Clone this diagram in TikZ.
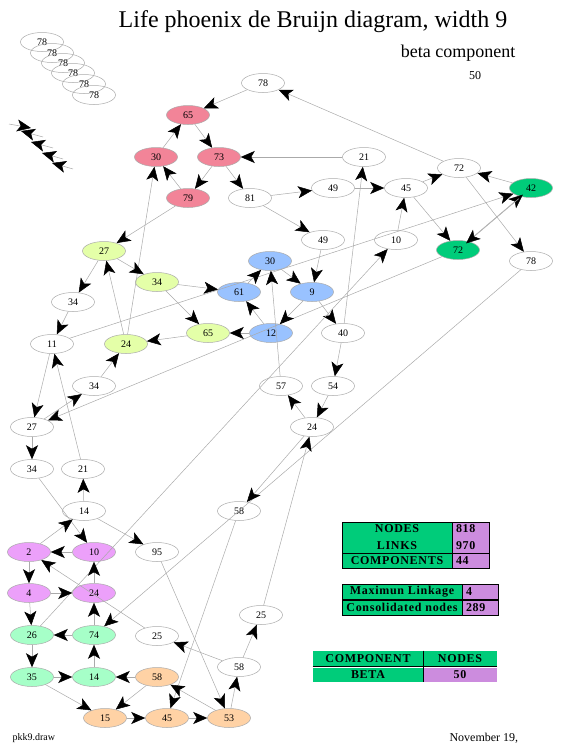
\documentclass[tikz,border=0pt]{standalone}
\usepackage{fontspec}
\setmainfont{Liberation Serif}
\newfontfamily\tablafuente[LetterSpace=6]{Liberation Serif}
\usetikzlibrary{shapes.geometric,arrows.meta}
\usepackage{xcolor}
\definecolor{rosa}{RGB}{242,132,152}
\definecolor{verdeosc}{RGB}{0,204,122}
\definecolor{amarillo}{RGB}{228,255,168}
\definecolor{azul}{RGB}{153,194,255}
\definecolor{magenta}{RGB}{236,160,250}
\definecolor{menta}{RGB}{166,255,200}
\definecolor{naranja}{RGB}{255,210,165}
\definecolor{lila}{RGB}{204,140,222}
\definecolor{lineagris}{RGB}{170,170,170}
\newcommand{\estado}[3]{%
  \node[estadobox, #2] (#1) at (#3) }

\begin{document}
\begin{tikzpicture}[x=1pt, y=-1pt,
  estadobox/.style={ellipse, draw=lineagris, line width=0.5pt, minimum width=43pt,
        minimum height=19pt, inner sep=0pt, font=\fontsize{10}{12}\selectfont},
  flecha/.style={draw=lineagris, line width=0.5pt,
        -{Stealth[length=14pt, width=12pt, inset=3.5pt, color=black]}},
  celda/.style={rectangle, draw=black, line width=0.8pt, inner sep=0pt,
        font=\tablafuente\bfseries\fontsize{12}{17}\selectfont},
  celdalibre/.style={celda, draw=none}]

\useasboundingbox (0,0) rectangle (562,750);

% titulos
\node[font=\fontsize{24}{28}\selectfont] (Titulo) at (313,22) {Life phoenix de Bruijn diagram, width 9};
\node[font=\fontsize{18}{22}\selectfont] (Subtitulo) at (458,53) {beta component};
\node[font=\fontsize{12}{14}\selectfont] (Cuenta) at (475,76) {50};
\node[font=\fontsize{10}{12}\selectfont, anchor=west] (Archivo) at (9,738) {pkk9.draw};
\node[font=\fontsize{12}{14}\selectfont, anchor=west] (Fecha) at (446,738) {November 19,};

% pila de 78
\estado{S1}{}{42,42} {78};
\estado{S2}{}{52,53} {78};
\estado{S3}{}{63,63} {78};
\estado{S4}{}{73,73} {78};
\estado{S5}{}{84,84} {78};
\estado{S6}{}{94,95} {78};

\coordinate (L1a) at (9,124);  \coordinate (L1b) at (31,128);
\coordinate (L2a) at (43,137); \coordinate (L2b) at (21,131);
\coordinate (L3a) at (53,148); \coordinate (L3b) at (31,142);
\coordinate (L4a) at (63,159); \coordinate (L4b) at (42,153);
\coordinate (L5a) at (73,169); \coordinate (L5b) at (52,163);

% nodos de arriba
\estado{N78}{}{263,83} {78};
\estado{P65}{fill=rosa}{188,115} {65};
\estado{P30}{fill=rosa}{156,157} {30};
\estado{P73}{fill=rosa}{219,157} {73};
\estado{P79}{fill=rosa}{188,198} {79};
\estado{W81}{}{250,198} {81};
\estado{N21}{}{364,157} {21};
\estado{N49a}{}{333,188} {49};
\estado{N45}{}{406,188} {45};
\estado{N72}{}{459,168} {72};
\estado{G42}{fill=verdeosc}{531,188} {42};
\estado{N10}{}{396,240} {10};
\estado{G72}{fill=verdeosc}{458,250} {72};
\estado{N78r}{}{531,261} {78};
\estado{N49b}{}{323,240} {49};

% nodos del medio
\estado{Y27}{fill=amarillo}{104,251} {27};
\estado{Y34}{fill=amarillo}{157,282} {34};
\estado{Y65}{fill=amarillo}{208,333} {65};
\estado{Y24}{fill=amarillo}{126,344} {24};
\estado{B30}{fill=azul}{270,261} {30};
\estado{B61}{fill=azul}{239,292} {61};
\estado{B9}{fill=azul}{312,292} {9};
\estado{B12}{fill=azul}{271,333} {12};
\estado{N34a}{}{73,302} {34};
\estado{N11}{}{52,344} {11};
\estado{N34b}{}{94,386} {34};
\estado{N40}{}{343,333} {40};
\estado{N54}{}{333,386} {54};
\estado{N57}{}{281,386} {57};
\estado{N24}{}{312,427} {24};
\estado{N27}{}{32,427} {27};
\estado{N34c}{}{32,469} {34};
\estado{N21b}{}{83,469} {21};
\estado{N14}{}{84,511} {14};
\estado{N58a}{}{239,511} {58};
\estado{N95}{}{157,552} {95};

% nodos de abajo
\estado{M2}{fill=magenta}{29,552} {2};
\estado{M10}{fill=magenta}{94,552} {10};
\estado{M4}{fill=magenta}{29,593} {4};
\estado{M24}{fill=magenta}{94,593} {24};
\estado{N25a}{}{261,615} {25};
\estado{N25b}{}{157,636} {25};
\estado{N58b}{}{239,667} {58};
\estado{T26}{fill=menta}{32,635} {26};
\estado{T74}{fill=menta}{94,635} {74};
\estado{T35}{fill=menta}{32,677} {35};
\estado{T14}{fill=menta}{94,677} {14};
\estado{O58}{fill=naranja}{157,677} {58};
\estado{O15}{fill=naranja}{105,718} {15};
\estado{O45}{fill=naranja}{167,718} {45};
\estado{O53}{fill=naranja}{229,718} {53};

% tablas
\node[celda, fill=verdeosc, minimum width=110pt, minimum height=31pt, align=center] (TabNodos) at (397,537.5) {NODES\\LINKS};
\node[celda, fill=lila, minimum width=37pt, minimum height=31pt, text width=29pt, align=left] (TabNodosV) at (470.5,537.5) {818\\970};
\node[celda, fill=verdeosc, minimum width=110pt, minimum height=15pt] (TabComp) at (397,560.5) {COMPONENTS};
\node[celda, fill=lila, minimum width=37pt, minimum height=15pt, text width=29pt, align=left] (TabCompV) at (470.5,560.5) {44};

\node[celda, fill=verdeosc, minimum width=120pt, minimum height=15pt] (TabMax) at (402,591.5) {Maximun Linkage};
\node[celda, fill=lila, minimum width=36pt, minimum height=15pt, text width=28pt, align=left] (TabMaxV) at (480,591.5) {4};
\node[celda, fill=verdeosc, minimum width=120pt, minimum height=15pt] (TabCons) at (402,607.5) {Consolidated nodes};
\node[celda, fill=lila, minimum width=36pt, minimum height=15pt, text width=28pt, align=left] (TabConsV) at (480,607.5) {289};

\node[celdalibre, fill=verdeosc, minimum width=110pt, minimum height=15pt] (TabComponente) at (368,658.5) {COMPONENT};
\node[celdalibre, fill=verdeosc, minimum width=74pt, minimum height=15pt] (TabNodosB) at (460,658.5) {NODES};
\node[celdalibre, fill=verdeosc, minimum width=110pt, minimum height=14pt] (TabBeta) at (368,675) {BETA};
\node[celdalibre, fill=lila, minimum width=74pt, minimum height=14pt] (TabBetaV) at (460,675) {50};
\draw[black, line width=1.5pt] (TabComponente.south west) -- (TabNodosB.south east);
\draw[black, line width=0.8pt] (TabComponente.north east) -- (TabBeta.south east);

% enlaces
\draw[flecha] (L1a) -- (L1b);
\draw[flecha] (L2a) -- (L2b);
\draw[flecha] (L3a) -- (L3b);
\draw[flecha] (L4a) -- (L4b);
\draw[flecha] (L5a) -- (L5b);

\draw[flecha] (N78) -- (P65);
\draw[flecha] (N72) -- (N78);
\draw[flecha] (P30) -- (P65);
\draw[flecha] (P65) -- (P73);
\draw[flecha] (P79) -- (P30);
\draw[flecha] (P73) -- (P79);
\draw[flecha] (P73) -- (W81);
\draw[flecha] (N21) -- (P73);
\draw[flecha] (Y24) -- (P30);
\draw[flecha] (P79) -- (Y27);
\draw[flecha] (W81) -- (N49a);
\draw[flecha] (W81) -- (N49b);
\draw[flecha] (N49a) -- (N45);
\draw[flecha] (N40) -- (N21);
\draw[flecha] (N45) -- (N72);
\draw[flecha] (G42) -- (N72);
\draw[flecha] (N10) -- (N45);
\draw[flecha] (N45) -- (G72);
\draw[flecha] (N72) -- (N78r);
\draw[flecha] (N11) -- (G42);
\draw[flecha, transform canvas={xshift=2pt, yshift=2pt}] (G72) -- (G42);
\draw[flecha, transform canvas={xshift=-2pt, yshift=-2pt}] (G42) -- (G72);
\draw[flecha] (G72) -- (N27);
\draw[flecha] (N78r) -- (T74);

\draw[flecha] (N24) -- (N58a);
\draw[flecha] (N58a) -- (O45);
\draw[flecha] (N57) -- (B30);
\draw[flecha] (N24) -- (N57);
\draw[flecha] (N54) -- (N24);
\draw[flecha] (N40) -- (N54);
\draw[flecha] (B9) -- (N40);
\draw[flecha] (N49b) -- (B9);
\draw[flecha] (B30) -- (B9);
\draw[flecha] (B9) -- (B12);
\draw[flecha] (B61) -- (B30);
\draw[flecha] (B12) -- (B61);
\draw[flecha] (B12) -- (Y65);
\draw[flecha] (Y65) -- (Y24);
\draw[flecha] (Y34) -- (Y65);
\draw[flecha] (Y34) -- (B61);
\draw[flecha] (Y27) -- (Y34);
\draw[flecha] (Y27) -- (N34a);
\draw[flecha] (Y24) -- (Y27);
\draw[flecha] (N34a) -- (N11);
\draw[flecha] (N34b) -- (Y24);
\draw[flecha] (N21b) -- (N11);
\draw[flecha] (N11) -- (N27);
\draw[flecha] (N27) -- (N34b);
\draw[flecha] (T26) -- (N10);
\draw[flecha] (N27) -- (N34c);
\draw[flecha] (N14) -- (N21b);
\draw[flecha] (N34c) -- (M10);
\draw[flecha] (M2) -- (N14);
\draw[flecha] (N14) -- (N95);

\draw[flecha] (M10) -- (M2);
\draw[flecha] (M2) -- (M4);
\draw[flecha] (M4) -- (M24);
\draw[flecha] (M24) -- (M10);
\draw[flecha] (N25b) -- (M2);
\draw[flecha] (M4) -- (T26);
\draw[flecha] (T74) -- (M24);
\draw[flecha] (T74) -- (T26);
\draw[flecha] (T26) -- (T35);
\draw[flecha] (T35) -- (T14);
\draw[flecha] (T14) -- (T74);
\draw[flecha] (O58) -- (T14);
\draw[flecha] (T35) -- (O15);
\draw[flecha] (O58) -- (O15);
\draw[flecha] (O15) -- (O45);
\draw[flecha] (O45) -- (O53);
\draw[flecha] (O53) -- (O58);
\draw[flecha] (O53) -- (N58b);
\draw[flecha] (N58b) -- (N25a);
\draw[flecha] (N58b) -- (N25b);
\draw[flecha] (N95) -- (O53);
\draw[flecha] (N25a) -- (N24);

\end{tikzpicture}
\end{document}
